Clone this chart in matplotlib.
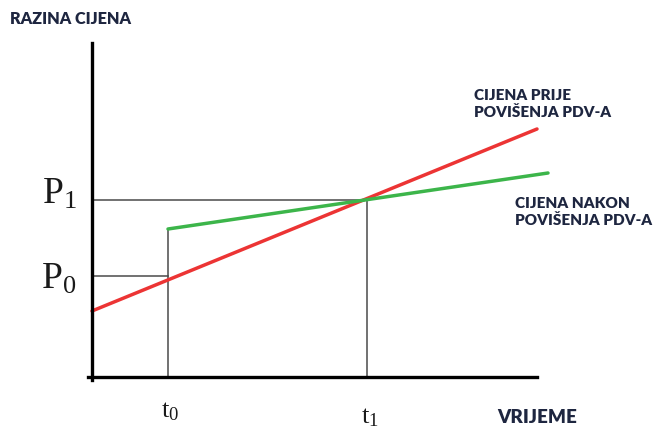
import matplotlib
matplotlib.use('Agg')
import matplotlib.pyplot as plt

plt.rcParams['mathtext.fontset'] = 'custom'
plt.rcParams['mathtext.rm'] = 'Liberation Serif'

# ---- data (conceptual units) ----
t0, t1 = 0.76, 2.75
p0, p1 = 1.01, 1.77
x_max, y_max = 4.45, 3.34

red_x = [0.0, 4.45]       # cijena prije povisenja PDV-a
red_y = [0.66, 2.48]
green_x = [0.76, 4.56]    # cijena nakon povisenja PDV-a
green_y = [1.48, 2.04]

TXT = '#1e2640'
LAB_FONT = 'Lato'

fig = plt.figure(figsize=(6.6, 4.28), dpi=100)
ax = fig.add_axes([92/660, 51/428, 445/660, 334/428])
ax.set_xlim(0, x_max)
ax.set_ylim(0, y_max)
ax.axis('off')

# guide lines
ax.plot([0, t1], [p1, p1], color='#4a4a4a', lw=1.1, clip_on=False)
ax.plot([t1, t1], [0, p1], color='#4a4a4a', lw=1.1, clip_on=False)
ax.plot([0, t0], [p0, p0], color='#4a4a4a', lw=1.1, clip_on=False)
ax.plot([t0, t0], [0, green_y[0]], color='#4a4a4a', lw=1.1, clip_on=False)

# price lines
ax.plot(red_x, red_y, color='#ec3434', lw=2.5, clip_on=False, solid_capstyle='round')
ax.plot(green_x, green_y, color='#3cb54a', lw=2.5, clip_on=False, solid_capstyle='round')

# axes
ax.plot([0, 0], [-0.03, y_max], color='black', lw=2.4, clip_on=False)
ax.plot([-0.04, x_max], [0, 0], color='black', lw=2.4, clip_on=False)

# serif labels
ax.text(-0.15, 1.73, r'$\mathrm{P_1}$', fontsize=27, ha='right', va='baseline', color='#1a1a1a')
ax.text(-0.16, 0.88, r'$\mathrm{P_0}$', fontsize=27, ha='right', va='baseline', color='#1a1a1a')
ax.text(0.78, -0.20, r'$\mathrm{t_0}$', fontsize=19, ha='center', va='top', color='#1a1a1a')
ax.text(2.78, -0.26, r'$\mathrm{t_1}$', fontsize=19, ha='center', va='top', color='#1a1a1a')

# word labels
ax.text(-0.82, 3.66, 'RAZINA CIJENA', fontsize=11.7, fontweight='heavy', family=LAB_FONT,
        color=TXT, ha='left', va='top')
ax.text(4.05, -0.32, 'VRIJEME', fontsize=13.5, fontweight='heavy', family=LAB_FONT,
        color=TXT, ha='left', va='top')
ax.text(3.82, 2.88, 'CIJENA PRIJE\nPOVIŠENJA PDV-A', fontsize=11, fontweight='heavy',
        family=LAB_FONT, color=TXT, ha='left', va='top', linespacing=1.25)
ax.text(4.23, 1.80, 'CIJENA NAKON\nPOVIŠENJA PDV-A', fontsize=11, fontweight='heavy',
        family=LAB_FONT, color=TXT, ha='left', va='top', linespacing=1.25)

fig.savefig('out.png', dpi=100)
